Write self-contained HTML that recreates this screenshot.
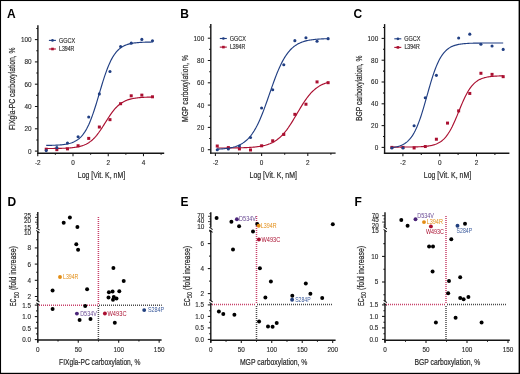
<!DOCTYPE html>
<html><head><meta charset="utf-8"><title>Figure</title>
<style>
html,body{margin:0;padding:0;background:#fff;}
body{width:520px;height:374px;overflow:hidden;}
svg{display:block;will-change:transform;}
text{font-family:"Liberation Sans", sans-serif;}
.t{stroke:#2a2a2a;stroke-width:0.22px;}
.k{stroke:#2a2a2a;stroke-width:0.14px;}
</style></head>
<body>
<svg width="520" height="374" viewBox="0 0 520 374">
<rect x="0" y="0" width="520" height="374" fill="#fff"/>
<g fill="#2a2a2a">
<line x1="37.9" y1="25.3" x2="37.9" y2="153.9" stroke="#151515" stroke-width="1.4"/>
<line x1="37.2" y1="153.2" x2="164.2" y2="153.2" stroke="#151515" stroke-width="1.4"/>
<line x1="34.9" y1="151.1" x2="37.9" y2="151.1" stroke="#151515" stroke-width="1.05"/>
<text class="k" x="31.6" y="153.5" font-size="7.2" textLength="3.55" lengthAdjust="spacingAndGlyphs" text-anchor="end">0</text>
<line x1="36.3" y1="139.95" x2="37.9" y2="139.95" stroke="#151515" stroke-width="1.05"/>
<line x1="34.9" y1="128.8" x2="37.9" y2="128.8" stroke="#151515" stroke-width="1.05"/>
<text class="k" x="31.6" y="131.2" font-size="7.2" textLength="7.1" lengthAdjust="spacingAndGlyphs" text-anchor="end">20</text>
<line x1="36.3" y1="117.65" x2="37.9" y2="117.65" stroke="#151515" stroke-width="1.05"/>
<line x1="34.9" y1="106.5" x2="37.9" y2="106.5" stroke="#151515" stroke-width="1.05"/>
<text class="k" x="31.6" y="108.9" font-size="7.2" textLength="7.1" lengthAdjust="spacingAndGlyphs" text-anchor="end">40</text>
<line x1="36.3" y1="95.35" x2="37.9" y2="95.35" stroke="#151515" stroke-width="1.05"/>
<line x1="34.9" y1="84.2" x2="37.9" y2="84.2" stroke="#151515" stroke-width="1.05"/>
<text class="k" x="31.6" y="86.6" font-size="7.2" textLength="7.1" lengthAdjust="spacingAndGlyphs" text-anchor="end">60</text>
<line x1="36.3" y1="73.05" x2="37.9" y2="73.05" stroke="#151515" stroke-width="1.05"/>
<line x1="34.9" y1="61.9" x2="37.9" y2="61.9" stroke="#151515" stroke-width="1.05"/>
<text class="k" x="31.6" y="64.3" font-size="7.2" textLength="7.1" lengthAdjust="spacingAndGlyphs" text-anchor="end">80</text>
<line x1="36.3" y1="50.75" x2="37.9" y2="50.75" stroke="#151515" stroke-width="1.05"/>
<line x1="34.9" y1="39.6" x2="37.9" y2="39.6" stroke="#151515" stroke-width="1.05"/>
<text class="k" x="31.6" y="42" font-size="7.2" textLength="10.65" lengthAdjust="spacingAndGlyphs" text-anchor="end">100</text>
<line x1="36.3" y1="28.45" x2="37.9" y2="28.45" stroke="#151515" stroke-width="1.05"/>
<line x1="37.76" y1="153.2" x2="37.76" y2="156.2" stroke="#151515" stroke-width="1.05"/>
<text class="k" x="34.98" y="165.3" font-size="7.2" textLength="5.75" lengthAdjust="spacingAndGlyphs">-2</text>
<line x1="55.38" y1="153.2" x2="55.38" y2="154.8" stroke="#151515" stroke-width="1.05"/>
<line x1="73" y1="153.2" x2="73" y2="156.2" stroke="#151515" stroke-width="1.05"/>
<text class="k" x="71.22" y="165.3" font-size="7.2" textLength="3.55" lengthAdjust="spacingAndGlyphs">0</text>
<line x1="90.62" y1="153.2" x2="90.62" y2="154.8" stroke="#151515" stroke-width="1.05"/>
<line x1="108.24" y1="153.2" x2="108.24" y2="156.2" stroke="#151515" stroke-width="1.05"/>
<text class="k" x="106.47" y="165.3" font-size="7.2" textLength="3.55" lengthAdjust="spacingAndGlyphs">2</text>
<line x1="125.86" y1="153.2" x2="125.86" y2="154.8" stroke="#151515" stroke-width="1.05"/>
<line x1="143.48" y1="153.2" x2="143.48" y2="156.2" stroke="#151515" stroke-width="1.05"/>
<text class="k" x="141.71" y="165.3" font-size="7.2" textLength="3.55" lengthAdjust="spacingAndGlyphs">4</text>
<line x1="161.1" y1="153.2" x2="161.1" y2="154.8" stroke="#151515" stroke-width="1.05"/>
<polyline points="46.22,148.5 47.1,148.5 47.99,148.49 48.87,148.49 49.76,148.48 50.64,148.48 51.53,148.47 52.42,148.46 53.3,148.45 54.19,148.44 55.07,148.43 55.96,148.42 56.84,148.41 57.73,148.39 58.61,148.38 59.5,148.36 60.38,148.34 61.27,148.32 62.15,148.29 63.04,148.26 63.93,148.23 64.81,148.2 65.7,148.16 66.58,148.11 67.47,148.07 68.35,148.01 69.24,147.95 70.12,147.88 71.01,147.81 71.89,147.73 72.78,147.63 73.67,147.53 74.55,147.42 75.44,147.29 76.32,147.15 77.21,146.99 78.09,146.82 78.98,146.63 79.86,146.42 80.75,146.18 81.63,145.92 82.52,145.63 83.4,145.32 84.29,144.97 85.18,144.59 86.06,144.17 86.95,143.71 87.83,143.21 88.72,142.66 89.6,142.06 90.49,141.41 91.37,140.71 92.26,139.95 93.14,139.14 94.03,138.26 94.91,137.33 95.8,136.33 96.69,135.28 97.57,134.17 98.46,133 99.34,131.78 100.23,130.51 101.11,129.2 102,127.86 102.88,126.48 103.77,125.08 104.65,123.67 105.54,122.25 106.43,120.84 107.31,119.43 108.2,118.05 109.08,116.69 109.97,115.37 110.85,114.08 111.74,112.85 112.62,111.66 113.51,110.53 114.39,109.46 115.28,108.45 116.16,107.49 117.05,106.6 117.94,105.76 118.82,104.98 119.71,104.26 120.59,103.6 121.48,102.98 122.36,102.42 123.25,101.9 124.13,101.43 125.02,100.99 125.9,100.6 126.79,100.24 127.67,99.91 128.56,99.62 129.45,99.35 130.33,99.11 131.22,98.89 132.1,98.69 132.99,98.51 133.87,98.35 134.76,98.2 135.64,98.07 136.53,97.95 137.41,97.85 138.3,97.75 139.19,97.66 140.07,97.59 140.96,97.52 141.84,97.45 142.73,97.4 143.61,97.35 144.5,97.3 145.38,97.26 146.27,97.23 147.15,97.19 148.04,97.16 148.92,97.14 149.81,97.11 150.7,97.09 151.58,97.07 152.47,97.06" fill="none" stroke="#aa0f30" stroke-width="1.15"/>
<polyline points="46.22,145.42 47.1,145.41 47.99,145.4 48.87,145.38 49.76,145.36 50.64,145.34 51.53,145.32 52.42,145.3 53.3,145.27 54.19,145.24 55.07,145.2 55.96,145.16 56.84,145.12 57.73,145.07 58.61,145.02 59.5,144.95 60.38,144.88 61.27,144.81 62.15,144.72 63.04,144.62 63.93,144.51 64.81,144.39 65.7,144.25 66.58,144.1 67.47,143.92 68.35,143.73 69.24,143.51 70.12,143.27 71.01,143 71.89,142.7 72.78,142.37 73.67,141.99 74.55,141.58 75.44,141.11 76.32,140.6 77.21,140.03 78.09,139.39 78.98,138.69 79.86,137.91 80.75,137.05 81.63,136.11 82.52,135.07 83.4,133.93 84.29,132.68 85.18,131.33 86.06,129.85 86.95,128.25 87.83,126.51 88.72,124.65 89.6,122.66 90.49,120.53 91.37,118.27 92.26,115.88 93.14,113.38 94.03,110.76 94.91,108.04 95.8,105.23 96.69,102.34 97.57,99.4 98.46,96.43 99.34,93.44 100.23,90.44 101.11,87.47 102,84.54 102.88,81.68 103.77,78.88 104.65,76.18 105.54,73.58 106.43,71.1 107.31,68.74 108.2,66.5 109.08,64.4 109.97,62.43 110.85,60.6 111.74,58.89 112.62,57.31 113.51,55.86 114.39,54.52 115.28,53.3 116.16,52.18 117.05,51.16 117.94,50.24 118.82,49.39 119.71,48.63 120.59,47.94 121.48,47.32 122.36,46.76 123.25,46.26 124.13,45.8 125.02,45.4 125.9,45.03 126.79,44.7 127.67,44.41 128.56,44.14 129.45,43.91 130.33,43.7 131.22,43.51 132.1,43.34 132.99,43.19 133.87,43.05 134.76,42.93 135.64,42.83 136.53,42.73 137.41,42.64 138.3,42.57 139.19,42.5 140.07,42.44 140.96,42.38 141.84,42.34 142.73,42.29 143.61,42.26 144.5,42.22 145.38,42.19 146.27,42.16 147.15,42.14 148.04,42.12 148.92,42.1 149.81,42.08 150.7,42.07 151.58,42.05 152.47,42.04" fill="none" stroke="#213f83" stroke-width="1.15"/>
<rect x="44.72" y="147.7" width="3" height="3" fill="#aa0f30"/>
<rect x="55.34" y="148.15" width="3" height="3" fill="#aa0f30"/>
<rect x="65.97" y="147.37" width="3" height="3" fill="#aa0f30"/>
<rect x="76.59" y="144.25" width="3" height="3" fill="#aa0f30"/>
<rect x="87.22" y="136.89" width="3" height="3" fill="#aa0f30"/>
<rect x="97.84" y="125.52" width="3" height="3" fill="#aa0f30"/>
<rect x="108.47" y="118.16" width="3" height="3" fill="#aa0f30"/>
<rect x="119.09" y="102.21" width="3" height="3" fill="#aa0f30"/>
<rect x="129.72" y="94.3" width="3" height="3" fill="#aa0f30"/>
<rect x="140.34" y="93.63" width="3" height="3" fill="#aa0f30"/>
<rect x="150.97" y="95.3" width="3" height="3" fill="#aa0f30"/>
<circle cx="46.22" cy="150.6" r="1.55" fill="#213f83"/>
<circle cx="56.84" cy="147.64" r="1.55" fill="#213f83"/>
<circle cx="67.47" cy="143.07" r="1.55" fill="#213f83"/>
<circle cx="78.09" cy="136.72" r="1.55" fill="#213f83"/>
<circle cx="88.72" cy="116.98" r="1.55" fill="#213f83"/>
<circle cx="99.34" cy="93.9" r="1.55" fill="#213f83"/>
<circle cx="109.97" cy="71.49" r="1.55" fill="#213f83"/>
<circle cx="120.59" cy="46.51" r="1.55" fill="#213f83"/>
<circle cx="131.22" cy="43.17" r="1.55" fill="#213f83"/>
<circle cx="141.84" cy="39.38" r="1.55" fill="#213f83"/>
<circle cx="152.47" cy="40.83" r="1.55" fill="#213f83"/>
<line x1="48.9" y1="40.4" x2="55.9" y2="40.4" stroke="#213f83" stroke-width="1.1"/>
<circle cx="52.5" cy="40.4" r="1.35" fill="#213f83"/>
<line x1="48.9" y1="49" x2="55.9" y2="49" stroke="#aa0f30" stroke-width="1.1"/>
<rect x="51.2" y="47.7" width="2.6" height="2.6" fill="#aa0f30"/>
<text class="k" x="58.9" y="42.6" font-size="6.3" textLength="16.2" lengthAdjust="spacingAndGlyphs">GGCX</text>
<text class="k" x="59" y="50.75" font-size="6.4" textLength="15.4" lengthAdjust="spacingAndGlyphs">L394R</text>
<text class="t" x="77.8" y="177.8" font-size="9.8" textLength="47.3" lengthAdjust="spacingAndGlyphs">Log [Vit. K, nM]</text>
<text class="t" x="15.3" y="130.1" font-size="9.8" textLength="82.7" lengthAdjust="spacingAndGlyphs" transform="rotate(-90 15.3 130.1)">FIXgla-PC carboxylation, %</text>
<text x="7.1" y="17.9" font-size="12" fill="#000" font-weight="bold">A</text>
<line x1="210.8" y1="24.1" x2="210.8" y2="153.8" stroke="#151515" stroke-width="1.4"/>
<line x1="210.1" y1="153.1" x2="335.6" y2="153.1" stroke="#151515" stroke-width="1.4"/>
<line x1="207.8" y1="149.7" x2="210.8" y2="149.7" stroke="#151515" stroke-width="1.05"/>
<text class="k" x="204.2" y="152.1" font-size="7.2" textLength="3.55" lengthAdjust="spacingAndGlyphs" text-anchor="end">0</text>
<line x1="209.2" y1="138.55" x2="210.8" y2="138.55" stroke="#151515" stroke-width="1.05"/>
<line x1="207.8" y1="127.4" x2="210.8" y2="127.4" stroke="#151515" stroke-width="1.05"/>
<text class="k" x="204.2" y="129.8" font-size="7.2" textLength="7.1" lengthAdjust="spacingAndGlyphs" text-anchor="end">20</text>
<line x1="209.2" y1="116.25" x2="210.8" y2="116.25" stroke="#151515" stroke-width="1.05"/>
<line x1="207.8" y1="105.1" x2="210.8" y2="105.1" stroke="#151515" stroke-width="1.05"/>
<text class="k" x="204.2" y="107.5" font-size="7.2" textLength="7.1" lengthAdjust="spacingAndGlyphs" text-anchor="end">40</text>
<line x1="209.2" y1="93.95" x2="210.8" y2="93.95" stroke="#151515" stroke-width="1.05"/>
<line x1="207.8" y1="82.8" x2="210.8" y2="82.8" stroke="#151515" stroke-width="1.05"/>
<text class="k" x="204.2" y="85.2" font-size="7.2" textLength="7.1" lengthAdjust="spacingAndGlyphs" text-anchor="end">60</text>
<line x1="209.2" y1="71.65" x2="210.8" y2="71.65" stroke="#151515" stroke-width="1.05"/>
<line x1="207.8" y1="60.5" x2="210.8" y2="60.5" stroke="#151515" stroke-width="1.05"/>
<text class="k" x="204.2" y="62.9" font-size="7.2" textLength="7.1" lengthAdjust="spacingAndGlyphs" text-anchor="end">80</text>
<line x1="209.2" y1="49.35" x2="210.8" y2="49.35" stroke="#151515" stroke-width="1.05"/>
<line x1="207.8" y1="38.2" x2="210.8" y2="38.2" stroke="#151515" stroke-width="1.05"/>
<text class="k" x="204.2" y="40.6" font-size="7.2" textLength="10.65" lengthAdjust="spacingAndGlyphs" text-anchor="end">100</text>
<line x1="209.2" y1="27.05" x2="210.8" y2="27.05" stroke="#151515" stroke-width="1.05"/>
<line x1="215.4" y1="153.1" x2="215.4" y2="156.1" stroke="#151515" stroke-width="1.05"/>
<text class="k" x="212.63" y="165.2" font-size="7.2" textLength="5.75" lengthAdjust="spacingAndGlyphs">-2</text>
<line x1="238.5" y1="153.1" x2="238.5" y2="154.7" stroke="#151515" stroke-width="1.05"/>
<line x1="261.6" y1="153.1" x2="261.6" y2="156.1" stroke="#151515" stroke-width="1.05"/>
<text class="k" x="259.83" y="165.2" font-size="7.2" textLength="3.55" lengthAdjust="spacingAndGlyphs">0</text>
<line x1="284.7" y1="153.1" x2="284.7" y2="154.7" stroke="#151515" stroke-width="1.05"/>
<line x1="307.8" y1="153.1" x2="307.8" y2="156.1" stroke="#151515" stroke-width="1.05"/>
<text class="k" x="306.03" y="165.2" font-size="7.2" textLength="3.55" lengthAdjust="spacingAndGlyphs">2</text>
<line x1="330.9" y1="153.1" x2="330.9" y2="154.7" stroke="#151515" stroke-width="1.05"/>
<polyline points="217.25,148 218.17,148 219.1,148 220.02,148 220.94,147.99 221.87,147.99 222.79,147.99 223.72,147.98 224.64,147.98 225.56,147.97 226.49,147.97 227.41,147.96 228.34,147.95 229.26,147.95 230.18,147.94 231.11,147.93 232.03,147.92 232.96,147.91 233.88,147.9 234.8,147.89 235.73,147.87 236.65,147.86 237.58,147.84 238.5,147.83 239.42,147.81 240.35,147.79 241.27,147.76 242.2,147.74 243.12,147.71 244.04,147.68 244.97,147.64 245.89,147.61 246.82,147.57 247.74,147.52 248.66,147.47 249.59,147.42 250.51,147.36 251.44,147.3 252.36,147.23 253.28,147.16 254.21,147.07 255.13,146.98 256.06,146.88 256.98,146.77 257.9,146.66 258.83,146.53 259.75,146.38 260.68,146.23 261.6,146.06 262.52,145.88 263.45,145.68 264.37,145.46 265.3,145.22 266.22,144.96 267.14,144.68 268.07,144.38 268.99,144.04 269.92,143.69 270.84,143.29 271.76,142.87 272.69,142.42 273.61,141.92 274.54,141.39 275.46,140.82 276.38,140.2 277.31,139.54 278.23,138.83 279.16,138.07 280.08,137.26 281,136.4 281.93,135.48 282.85,134.51 283.78,133.49 284.7,132.4 285.62,131.26 286.55,130.07 287.47,128.82 288.4,127.52 289.32,126.17 290.24,124.78 291.17,123.35 292.09,121.87 293.02,120.37 293.94,118.83 294.86,117.28 295.79,115.71 296.71,114.14 297.64,112.56 298.56,110.98 299.48,109.42 300.41,107.88 301.33,106.36 302.26,104.87 303.18,103.41 304.1,102 305.03,100.63 305.95,99.3 306.88,98.03 307.8,96.81 308.72,95.64 309.65,94.53 310.57,93.48 311.5,92.48 312.42,91.53 313.34,90.64 314.27,89.81 315.19,89.02 316.12,88.29 317.04,87.61 317.96,86.97 318.89,86.37 319.81,85.82 320.74,85.31 321.66,84.83 322.58,84.39 323.51,83.99 324.43,83.61 325.36,83.27 326.28,82.95 327.2,82.66 328.13,82.39" fill="none" stroke="#aa0f30" stroke-width="1.15"/>
<polyline points="217.25,149.21 218.17,149.16 219.1,149.1 220.02,149.04 220.94,148.98 221.87,148.9 222.79,148.82 223.72,148.74 224.64,148.64 225.56,148.54 226.49,148.42 227.41,148.29 228.34,148.15 229.26,148 230.18,147.83 231.11,147.65 232.03,147.45 232.96,147.23 233.88,146.98 234.8,146.72 235.73,146.43 236.65,146.11 237.58,145.76 238.5,145.38 239.42,144.96 240.35,144.51 241.27,144.01 242.2,143.47 243.12,142.89 244.04,142.25 244.97,141.55 245.89,140.8 246.82,139.98 247.74,139.1 248.66,138.14 249.59,137.11 250.51,136 251.44,134.81 252.36,133.53 253.28,132.16 254.21,130.7 255.13,129.15 256.06,127.49 256.98,125.74 257.9,123.89 258.83,121.94 259.75,119.9 260.68,117.76 261.6,115.54 262.52,113.23 263.45,110.84 264.37,108.39 265.3,105.87 266.22,103.3 267.14,100.69 268.07,98.05 268.99,95.39 269.92,92.73 270.84,90.07 271.76,87.43 272.69,84.82 273.61,82.25 274.54,79.74 275.46,77.28 276.38,74.89 277.31,72.58 278.23,70.36 279.16,68.22 280.08,66.18 281,64.23 281.93,62.38 282.85,60.63 283.78,58.98 284.7,57.42 285.62,55.96 286.55,54.59 287.47,53.31 288.4,52.12 289.32,51.01 290.24,49.98 291.17,49.02 292.09,48.14 293.02,47.32 293.94,46.57 294.86,45.88 295.79,45.24 296.71,44.65 297.64,44.11 298.56,43.61 299.48,43.16 300.41,42.74 301.33,42.36 302.26,42.02 303.18,41.7 304.1,41.41 305.03,41.14 305.95,40.9 306.88,40.68 307.8,40.47 308.72,40.29 309.65,40.12 310.57,39.97 311.5,39.83 312.42,39.7 313.34,39.59 314.27,39.48 315.19,39.39 316.12,39.3 317.04,39.22 317.96,39.15 318.89,39.08 319.81,39.02 320.74,38.97 321.66,38.92 322.58,38.87 323.51,38.83 324.43,38.79 325.36,38.76 326.28,38.73 327.2,38.7 328.13,38.68" fill="none" stroke="#213f83" stroke-width="1.15"/>
<rect x="215.75" y="144.52" width="3" height="3" fill="#aa0f30"/>
<rect x="226.84" y="146.08" width="3" height="3" fill="#aa0f30"/>
<rect x="237.92" y="147.42" width="3" height="3" fill="#aa0f30"/>
<rect x="249.01" y="148.48" width="3" height="3" fill="#aa0f30"/>
<rect x="260.1" y="144.3" width="3" height="3" fill="#aa0f30"/>
<rect x="271.19" y="139.28" width="3" height="3" fill="#aa0f30"/>
<rect x="282.28" y="132.92" width="3" height="3" fill="#aa0f30"/>
<rect x="293.36" y="112.85" width="3" height="3" fill="#aa0f30"/>
<rect x="304.45" y="102.71" width="3" height="3" fill="#aa0f30"/>
<rect x="315.54" y="80.41" width="3" height="3" fill="#aa0f30"/>
<rect x="326.63" y="81.19" width="3" height="3" fill="#aa0f30"/>
<circle cx="217.25" cy="149.81" r="1.55" fill="#213f83"/>
<circle cx="228.34" cy="149.03" r="1.55" fill="#213f83"/>
<circle cx="239.42" cy="146.02" r="1.55" fill="#213f83"/>
<circle cx="250.51" cy="137.55" r="1.55" fill="#213f83"/>
<circle cx="261.6" cy="108" r="1.55" fill="#213f83"/>
<circle cx="272.69" cy="89.71" r="1.55" fill="#213f83"/>
<circle cx="283.78" cy="64.74" r="1.55" fill="#213f83"/>
<circle cx="294.86" cy="40.65" r="1.55" fill="#213f83"/>
<circle cx="305.95" cy="37.75" r="1.55" fill="#213f83"/>
<circle cx="317.04" cy="41.21" r="1.55" fill="#213f83"/>
<circle cx="328.13" cy="38.65" r="1.55" fill="#213f83"/>
<line x1="219.8" y1="38.5" x2="226.8" y2="38.5" stroke="#213f83" stroke-width="1.1"/>
<circle cx="223.4" cy="38.5" r="1.35" fill="#213f83"/>
<line x1="219.8" y1="47.1" x2="226.8" y2="47.1" stroke="#aa0f30" stroke-width="1.1"/>
<rect x="222.1" y="45.8" width="2.6" height="2.6" fill="#aa0f30"/>
<text class="k" x="229.8" y="40.7" font-size="6.3" textLength="16.2" lengthAdjust="spacingAndGlyphs">GGCX</text>
<text class="k" x="229.9" y="48.85" font-size="6.4" textLength="15.4" lengthAdjust="spacingAndGlyphs">L394R</text>
<text class="t" x="249.6" y="177.6" font-size="9.8" textLength="47.3" lengthAdjust="spacingAndGlyphs">Log [Vit. K, nM]</text>
<text class="t" x="187.8" y="121.9" font-size="9.8" textLength="66.9" lengthAdjust="spacingAndGlyphs" transform="rotate(-90 187.8 121.9)">MGP carboxylation, %</text>
<text x="180.2" y="17.9" font-size="12" fill="#000" font-weight="bold">B</text>
<line x1="384.6" y1="24.1" x2="384.6" y2="154" stroke="#151515" stroke-width="1.4"/>
<line x1="383.9" y1="153.3" x2="509.4" y2="153.3" stroke="#151515" stroke-width="1.4"/>
<line x1="381.6" y1="147.4" x2="384.6" y2="147.4" stroke="#151515" stroke-width="1.05"/>
<text class="k" x="378.2" y="149.8" font-size="7.2" textLength="3.55" lengthAdjust="spacingAndGlyphs" text-anchor="end">0</text>
<line x1="383" y1="136.5" x2="384.6" y2="136.5" stroke="#151515" stroke-width="1.05"/>
<line x1="381.6" y1="125.6" x2="384.6" y2="125.6" stroke="#151515" stroke-width="1.05"/>
<text class="k" x="378.2" y="128" font-size="7.2" textLength="7.1" lengthAdjust="spacingAndGlyphs" text-anchor="end">20</text>
<line x1="383" y1="114.7" x2="384.6" y2="114.7" stroke="#151515" stroke-width="1.05"/>
<line x1="381.6" y1="103.8" x2="384.6" y2="103.8" stroke="#151515" stroke-width="1.05"/>
<text class="k" x="378.2" y="106.2" font-size="7.2" textLength="7.1" lengthAdjust="spacingAndGlyphs" text-anchor="end">40</text>
<line x1="383" y1="92.9" x2="384.6" y2="92.9" stroke="#151515" stroke-width="1.05"/>
<line x1="381.6" y1="82" x2="384.6" y2="82" stroke="#151515" stroke-width="1.05"/>
<text class="k" x="378.2" y="84.4" font-size="7.2" textLength="7.1" lengthAdjust="spacingAndGlyphs" text-anchor="end">60</text>
<line x1="383" y1="71.1" x2="384.6" y2="71.1" stroke="#151515" stroke-width="1.05"/>
<line x1="381.6" y1="60.2" x2="384.6" y2="60.2" stroke="#151515" stroke-width="1.05"/>
<text class="k" x="378.2" y="62.6" font-size="7.2" textLength="7.1" lengthAdjust="spacingAndGlyphs" text-anchor="end">80</text>
<line x1="383" y1="49.3" x2="384.6" y2="49.3" stroke="#151515" stroke-width="1.05"/>
<line x1="381.6" y1="38.4" x2="384.6" y2="38.4" stroke="#151515" stroke-width="1.05"/>
<text class="k" x="378.2" y="40.8" font-size="7.2" textLength="10.65" lengthAdjust="spacingAndGlyphs" text-anchor="end">100</text>
<line x1="383" y1="27.5" x2="384.6" y2="27.5" stroke="#151515" stroke-width="1.05"/>
<line x1="402.9" y1="153.3" x2="402.9" y2="156.3" stroke="#151515" stroke-width="1.05"/>
<text class="k" x="400.12" y="165.2" font-size="7.2" textLength="5.75" lengthAdjust="spacingAndGlyphs">-2</text>
<line x1="421.3" y1="153.3" x2="421.3" y2="154.9" stroke="#151515" stroke-width="1.05"/>
<line x1="439.7" y1="153.3" x2="439.7" y2="156.3" stroke="#151515" stroke-width="1.05"/>
<text class="k" x="437.93" y="165.2" font-size="7.2" textLength="3.55" lengthAdjust="spacingAndGlyphs">0</text>
<line x1="458.1" y1="153.3" x2="458.1" y2="154.9" stroke="#151515" stroke-width="1.05"/>
<line x1="476.5" y1="153.3" x2="476.5" y2="156.3" stroke="#151515" stroke-width="1.05"/>
<text class="k" x="474.73" y="165.2" font-size="7.2" textLength="3.55" lengthAdjust="spacingAndGlyphs">2</text>
<line x1="494.9" y1="153.3" x2="494.9" y2="154.9" stroke="#151515" stroke-width="1.05"/>
<polyline points="391.86,147.07 392.79,147.06 393.72,147.06 394.64,147.06 395.57,147.06 396.5,147.06 397.43,147.06 398.35,147.06 399.28,147.05 400.21,147.05 401.14,147.05 402.06,147.04 402.99,147.04 403.92,147.04 404.85,147.03 405.77,147.02 406.7,147.02 407.63,147.01 408.56,147 409.49,146.99 410.41,146.98 411.34,146.97 412.27,146.96 413.2,146.94 414.12,146.92 415.05,146.9 415.98,146.88 416.91,146.85 417.83,146.82 418.76,146.79 419.69,146.75 420.62,146.7 421.55,146.65 422.47,146.6 423.4,146.53 424.33,146.46 425.26,146.38 426.18,146.28 427.11,146.18 428.04,146.06 428.97,145.92 429.89,145.77 430.82,145.59 431.75,145.4 432.68,145.18 433.61,144.93 434.53,144.64 435.46,144.32 436.39,143.97 437.32,143.56 438.24,143.11 439.17,142.61 440.1,142.04 441.03,141.41 441.95,140.71 442.88,139.93 443.81,139.06 444.74,138.11 445.66,137.06 446.59,135.91 447.52,134.65 448.45,133.29 449.38,131.81 450.3,130.22 451.23,128.52 452.16,126.72 453.09,124.81 454.01,122.81 454.94,120.72 455.87,118.57 456.8,116.35 457.72,114.1 458.65,111.83 459.58,109.55 460.51,107.29 461.44,105.06 462.36,102.88 463.29,100.76 464.22,98.73 465.15,96.78 466.07,94.93 467,93.19 467.93,91.56 468.86,90.04 469.78,88.63 470.71,87.33 471.64,86.14 472.57,85.05 473.49,84.06 474.42,83.16 475.35,82.34 476.28,81.61 477.21,80.95 478.13,80.36 479.06,79.83 479.99,79.36 480.92,78.94 481.84,78.56 482.77,78.23 483.7,77.93 484.63,77.67 485.55,77.44 486.48,77.23 487.41,77.05 488.34,76.89 489.26,76.74 490.19,76.62 491.12,76.51 492.05,76.41 492.98,76.32 493.9,76.25 494.83,76.18 495.76,76.12 496.69,76.07 497.61,76.02 498.54,75.98 499.47,75.94 500.4,75.91 501.32,75.88 502.25,75.86 503.18,75.84" fill="none" stroke="#aa0f30" stroke-width="1.15"/>
<polyline points="391.86,147.58 392.79,147.47 393.72,147.33 394.64,147.18 395.57,147 396.5,146.81 397.43,146.59 398.35,146.34 399.28,146.06 400.21,145.74 401.14,145.39 402.06,144.98 402.99,144.53 403.92,144.03 404.85,143.46 405.77,142.82 406.7,142.11 407.63,141.32 408.56,140.43 409.49,139.45 410.41,138.36 411.34,137.15 412.27,135.82 413.2,134.35 414.12,132.75 415.05,130.99 415.98,129.08 416.91,127.02 417.83,124.8 418.76,122.41 419.69,119.87 420.62,117.19 421.55,114.36 422.47,111.4 423.4,108.33 424.33,105.17 425.26,101.94 426.18,98.66 427.11,95.35 428.04,92.05 428.97,88.78 429.89,85.56 430.82,82.42 431.75,79.37 432.68,76.44 433.61,73.65 434.53,70.99 435.46,68.49 436.39,66.14 437.32,63.96 438.24,61.93 439.17,60.06 440.1,58.34 441.03,56.76 441.95,55.33 442.88,54.03 443.81,52.85 444.74,51.78 445.66,50.82 446.59,49.96 447.52,49.18 448.45,48.49 449.38,47.87 450.3,47.32 451.23,46.83 452.16,46.39 453.09,46 454.01,45.65 454.94,45.34 455.87,45.07 456.8,44.83 457.72,44.61 458.65,44.42 459.58,44.25 460.51,44.11 461.44,43.97 462.36,43.86 463.29,43.75 464.22,43.66 465.15,43.58 466.07,43.51 467,43.45 467.93,43.39 468.86,43.35 469.78,43.3 470.71,43.26 471.64,43.23 472.57,43.2 473.49,43.17 474.42,43.15 475.35,43.13 476.28,43.11 477.21,43.1 478.13,43.08 479.06,43.07 479.99,43.06 480.92,43.05 481.84,43.04 482.77,43.03 483.7,43.03 484.63,43.02 485.55,43.02 486.48,43.01 487.41,43.01 488.34,43 489.26,43 490.19,43 491.12,43 492.05,42.99 492.98,42.99 493.9,42.99 494.83,42.99 495.76,42.99 496.69,42.99 497.61,42.99 498.54,42.98 499.47,42.98 500.4,42.98 501.32,42.98 502.25,42.98 503.18,42.98" fill="none" stroke="#213f83" stroke-width="1.15"/>
<rect x="390.36" y="145.9" width="3" height="3" fill="#aa0f30"/>
<rect x="401.49" y="145.9" width="3" height="3" fill="#aa0f30"/>
<rect x="412.62" y="146.44" width="3" height="3" fill="#aa0f30"/>
<rect x="423.76" y="145.03" width="3" height="3" fill="#aa0f30"/>
<rect x="434.89" y="137.72" width="3" height="3" fill="#aa0f30"/>
<rect x="446.02" y="121.59" width="3" height="3" fill="#aa0f30"/>
<rect x="457.15" y="109.39" width="3" height="3" fill="#aa0f30"/>
<rect x="468.28" y="91.94" width="3" height="3" fill="#aa0f30"/>
<rect x="479.42" y="71.78" width="3" height="3" fill="#aa0f30"/>
<rect x="490.55" y="72.87" width="3" height="3" fill="#aa0f30"/>
<rect x="501.68" y="75.16" width="3" height="3" fill="#aa0f30"/>
<circle cx="391.86" cy="147.94" r="1.55" fill="#213f83"/>
<circle cx="402.99" cy="147.94" r="1.55" fill="#213f83"/>
<circle cx="414.12" cy="125.71" r="1.55" fill="#213f83"/>
<circle cx="425.26" cy="97.81" r="1.55" fill="#213f83"/>
<circle cx="436.39" cy="75.35" r="1.55" fill="#213f83"/>
<circle cx="458.65" cy="37.96" r="1.55" fill="#213f83"/>
<circle cx="469.78" cy="34.15" r="1.55" fill="#213f83"/>
<circle cx="480.92" cy="44.18" r="1.55" fill="#213f83"/>
<circle cx="492.05" cy="46.03" r="1.55" fill="#213f83"/>
<circle cx="503.18" cy="49.41" r="1.55" fill="#213f83"/>
<line x1="394.3" y1="38.8" x2="401.3" y2="38.8" stroke="#213f83" stroke-width="1.1"/>
<circle cx="397.9" cy="38.8" r="1.35" fill="#213f83"/>
<line x1="394.3" y1="47.4" x2="401.3" y2="47.4" stroke="#aa0f30" stroke-width="1.1"/>
<rect x="396.6" y="46.1" width="2.6" height="2.6" fill="#aa0f30"/>
<text class="k" x="404.3" y="41" font-size="6.3" textLength="16.2" lengthAdjust="spacingAndGlyphs">GGCX</text>
<text class="k" x="404.4" y="49.15" font-size="6.4" textLength="15.4" lengthAdjust="spacingAndGlyphs">L394R</text>
<text class="t" x="423.8" y="177.6" font-size="9.8" textLength="47.3" lengthAdjust="spacingAndGlyphs">Log [Vit. K, nM]</text>
<text class="t" x="361.8" y="121" font-size="9.8" textLength="65.5" lengthAdjust="spacingAndGlyphs" transform="rotate(-90 361.8 121)">BGP carboxylation, %</text>
<text x="353.6" y="17.9" font-size="12" fill="#000" font-weight="bold">C</text>
<line x1="37.8" y1="212.1" x2="37.8" y2="228.2" stroke="#151515" stroke-width="1.4"/>
<line x1="37.8" y1="231" x2="37.8" y2="301.2" stroke="#151515" stroke-width="1.4"/>
<line x1="37.8" y1="303.6" x2="37.8" y2="342.4" stroke="#151515" stroke-width="1.4"/>
<line x1="36.3" y1="227.8" x2="39.5" y2="230.2" stroke="#151515" stroke-width="1.05"/>
<line x1="36.3" y1="230.4" x2="39.5" y2="232.8" stroke="#151515" stroke-width="1.05"/>
<line x1="36.3" y1="299.8" x2="39.5" y2="302.2" stroke="#151515" stroke-width="1.05"/>
<line x1="36.3" y1="302.8" x2="39.5" y2="305.2" stroke="#151515" stroke-width="1.05"/>
<line x1="37.1" y1="340" x2="161.6" y2="340" stroke="#151515" stroke-width="1.4"/>
<line x1="37.8" y1="340" x2="37.8" y2="342.8" stroke="#151515" stroke-width="1.05"/>
<text class="k" x="36.02" y="352" font-size="7.2" textLength="3.55" lengthAdjust="spacingAndGlyphs">0</text>
<line x1="58.02" y1="340" x2="58.02" y2="341.6" stroke="#151515" stroke-width="1.05"/>
<line x1="78.25" y1="340" x2="78.25" y2="342.8" stroke="#151515" stroke-width="1.05"/>
<text class="k" x="74.7" y="352" font-size="7.2" textLength="7.1" lengthAdjust="spacingAndGlyphs">50</text>
<line x1="98.47" y1="340" x2="98.47" y2="341.6" stroke="#151515" stroke-width="1.05"/>
<line x1="118.7" y1="340" x2="118.7" y2="342.8" stroke="#151515" stroke-width="1.05"/>
<text class="k" x="113.38" y="352" font-size="7.2" textLength="10.65" lengthAdjust="spacingAndGlyphs">100</text>
<line x1="138.93" y1="340" x2="138.93" y2="341.6" stroke="#151515" stroke-width="1.05"/>
<line x1="159.15" y1="340" x2="159.15" y2="342.8" stroke="#151515" stroke-width="1.05"/>
<text class="k" x="153.83" y="352" font-size="7.2" textLength="10.65" lengthAdjust="spacingAndGlyphs">150</text>
<line x1="34.8" y1="339.6" x2="37.8" y2="339.6" stroke="#151515" stroke-width="1.05"/>
<text class="k" x="31.05" y="342" font-size="7.2" textLength="8.7" lengthAdjust="spacingAndGlyphs" text-anchor="end">0.0</text>
<line x1="36.2" y1="333.85" x2="37.8" y2="333.85" stroke="#151515" stroke-width="1.05"/>
<line x1="34.8" y1="328.1" x2="37.8" y2="328.1" stroke="#151515" stroke-width="1.05"/>
<text class="k" x="31.05" y="330.5" font-size="7.2" textLength="8.7" lengthAdjust="spacingAndGlyphs" text-anchor="end">0.5</text>
<line x1="36.2" y1="322.35" x2="37.8" y2="322.35" stroke="#151515" stroke-width="1.05"/>
<line x1="34.8" y1="316.6" x2="37.8" y2="316.6" stroke="#151515" stroke-width="1.05"/>
<text class="k" x="31.05" y="319" font-size="7.2" textLength="8.7" lengthAdjust="spacingAndGlyphs" text-anchor="end">1.0</text>
<line x1="36.2" y1="310.85" x2="37.8" y2="310.85" stroke="#151515" stroke-width="1.05"/>
<line x1="34.8" y1="305.1" x2="37.8" y2="305.1" stroke="#151515" stroke-width="1.05"/>
<text class="k" x="31.05" y="307.5" font-size="7.2" textLength="8.7" lengthAdjust="spacingAndGlyphs" text-anchor="end">1.5</text>
<line x1="34.8" y1="296.5" x2="37.8" y2="296.5" stroke="#151515" stroke-width="1.05"/>
<text class="k" x="31.05" y="298.9" font-size="7.2" textLength="3.55" lengthAdjust="spacingAndGlyphs" text-anchor="end">2</text>
<line x1="36.2" y1="288.4" x2="37.8" y2="288.4" stroke="#151515" stroke-width="1.05"/>
<line x1="34.8" y1="280.3" x2="37.8" y2="280.3" stroke="#151515" stroke-width="1.05"/>
<text class="k" x="31.05" y="282.7" font-size="7.2" textLength="3.55" lengthAdjust="spacingAndGlyphs" text-anchor="end">4</text>
<line x1="36.2" y1="272.2" x2="37.8" y2="272.2" stroke="#151515" stroke-width="1.05"/>
<line x1="34.8" y1="264.1" x2="37.8" y2="264.1" stroke="#151515" stroke-width="1.05"/>
<text class="k" x="31.05" y="266.5" font-size="7.2" textLength="3.55" lengthAdjust="spacingAndGlyphs" text-anchor="end">6</text>
<line x1="36.2" y1="256" x2="37.8" y2="256" stroke="#151515" stroke-width="1.05"/>
<line x1="34.8" y1="247.9" x2="37.8" y2="247.9" stroke="#151515" stroke-width="1.05"/>
<text class="k" x="31.05" y="250.3" font-size="7.2" textLength="3.55" lengthAdjust="spacingAndGlyphs" text-anchor="end">8</text>
<line x1="36.2" y1="239.8" x2="37.8" y2="239.8" stroke="#151515" stroke-width="1.05"/>
<line x1="35" y1="217.4" x2="37.8" y2="217.4" stroke="#151515" stroke-width="0.8"/>
<line x1="36.3" y1="219.9" x2="37.8" y2="219.9" stroke="#151515" stroke-width="0.8"/>
<line x1="35" y1="222.2" x2="37.8" y2="222.2" stroke="#151515" stroke-width="0.8"/>
<line x1="36.3" y1="224.2" x2="37.8" y2="224.2" stroke="#151515" stroke-width="0.8"/>
<line x1="36.3" y1="214.8" x2="37.8" y2="214.8" stroke="#151515" stroke-width="0.8"/>
<text class="k" x="0" y="0" font-size="7.2" textLength="7.1" lengthAdjust="spacingAndGlyphs" transform="translate(23.9 218.35) scale(1 0.9)">25</text>
<text class="k" x="0" y="0" font-size="7.2" textLength="7.1" lengthAdjust="spacingAndGlyphs" transform="translate(23.9 223.15) scale(1 0.9)">20</text>
<text class="k" x="0" y="0" font-size="7.2" textLength="7.1" lengthAdjust="spacingAndGlyphs" transform="translate(23.9 229.65) scale(1 0.9)">15</text>
<text class="k" x="0" y="0" font-size="7.2" textLength="7.1" lengthAdjust="spacingAndGlyphs" transform="translate(23.9 234.75) scale(1 0.9)">10</text>
<line x1="98.4" y1="217" x2="98.4" y2="304.7" stroke="#c8406a" stroke-width="1.5" stroke-dasharray="1 1"/>
<line x1="98.4" y1="306" x2="98.4" y2="339.5" stroke="#4a4a4a" stroke-width="1.5" stroke-dasharray="1 1"/>
<line x1="39" y1="305.2" x2="97.9" y2="305.2" stroke="#c8406a" stroke-width="1.5" stroke-dasharray="1 1"/>
<line x1="99" y1="305.2" x2="161.8" y2="305.2" stroke="#4a4a4a" stroke-width="1.5" stroke-dasharray="1 1"/>
<circle cx="52.6" cy="290.4" r="1.98" fill="#000"/>
<circle cx="52.6" cy="309.1" r="1.98" fill="#000"/>
<circle cx="63.7" cy="222.7" r="1.98" fill="#000"/>
<circle cx="69.9" cy="217.6" r="1.98" fill="#000"/>
<circle cx="77.4" cy="227" r="1.98" fill="#000"/>
<circle cx="76.3" cy="244.3" r="1.98" fill="#000"/>
<circle cx="78.1" cy="249.7" r="1.98" fill="#000"/>
<circle cx="85.2" cy="306" r="1.98" fill="#000"/>
<circle cx="87.1" cy="289.2" r="1.98" fill="#000"/>
<circle cx="79.6" cy="320" r="1.98" fill="#000"/>
<circle cx="90.5" cy="319.1" r="1.98" fill="#000"/>
<circle cx="108.9" cy="292.3" r="1.98" fill="#000"/>
<circle cx="112.6" cy="291.6" r="1.98" fill="#000"/>
<circle cx="119.3" cy="291.2" r="1.98" fill="#000"/>
<circle cx="108.5" cy="297.5" r="1.98" fill="#000"/>
<circle cx="113.8" cy="297" r="1.98" fill="#000"/>
<circle cx="116.5" cy="298.4" r="1.98" fill="#000"/>
<circle cx="113" cy="299.8" r="1.98" fill="#000"/>
<circle cx="114.8" cy="322.7" r="1.98" fill="#000"/>
<circle cx="113.4" cy="268.1" r="1.98" fill="#000"/>
<circle cx="123.7" cy="281" r="1.98" fill="#000"/>
<circle cx="60" cy="277" r="1.95" fill="#e38d14"/>
<text x="63" y="278.7" font-size="6.5" textLength="15.4" lengthAdjust="spacingAndGlyphs" fill="#e38d14">L394R</text>
<circle cx="76.9" cy="313.6" r="1.95" fill="#4a2478"/>
<text x="80.2" y="315.6" font-size="6.5" textLength="16.6" lengthAdjust="spacingAndGlyphs" fill="#6a4a94">D534V</text>
<circle cx="104.9" cy="313.5" r="1.95" fill="#aa0f30"/>
<text x="107.5" y="315.6" font-size="6.5" textLength="19" lengthAdjust="spacingAndGlyphs" fill="#aa0f30">W493C</text>
<circle cx="144.2" cy="310.1" r="1.95" fill="#22407f"/>
<text x="147.9" y="312.1" font-size="6.5" textLength="16.3" lengthAdjust="spacingAndGlyphs" fill="#3a5a9c">S284P</text>
<text class="t" x="59.1" y="364.5" font-size="9.8" textLength="81.3" lengthAdjust="spacingAndGlyphs">FIXgla-PC carboxylation, %</text>
<g transform="rotate(-90 16.1 306.2)">
<text class="t" x="16.1" y="306.2" font-size="9.4" textLength="7.6" lengthAdjust="spacingAndGlyphs">EC</text>
<text class="k" x="24.2" y="308.8" font-size="6.6" textLength="6" lengthAdjust="spacingAndGlyphs">50</text>
<text class="t" x="32.2" y="306.2" font-size="9.4" textLength="44" lengthAdjust="spacingAndGlyphs">(fold increase)</text>
</g>
<text x="7.6" y="206.4" font-size="12" fill="#000" font-weight="bold">D</text>
<line x1="210.8" y1="212.3" x2="210.8" y2="227.6" stroke="#151515" stroke-width="1.4"/>
<line x1="210.8" y1="230.6" x2="210.8" y2="301" stroke="#151515" stroke-width="1.4"/>
<line x1="210.8" y1="303.4" x2="210.8" y2="342.6" stroke="#151515" stroke-width="1.4"/>
<line x1="209.4" y1="227.2" x2="212.6" y2="229.6" stroke="#151515" stroke-width="1.05"/>
<line x1="209.4" y1="230" x2="212.6" y2="232.4" stroke="#151515" stroke-width="1.05"/>
<line x1="209.4" y1="299.6" x2="212.6" y2="302" stroke="#151515" stroke-width="1.05"/>
<line x1="209.4" y1="302.4" x2="212.6" y2="304.8" stroke="#151515" stroke-width="1.05"/>
<line x1="210.1" y1="340.2" x2="335.6" y2="340.2" stroke="#151515" stroke-width="1.4"/>
<line x1="210.8" y1="340.2" x2="210.8" y2="343" stroke="#151515" stroke-width="1.05"/>
<text class="k" x="209.03" y="352" font-size="7.2" textLength="3.55" lengthAdjust="spacingAndGlyphs">0</text>
<line x1="226.04" y1="340.2" x2="226.04" y2="341.8" stroke="#151515" stroke-width="1.05"/>
<line x1="241.28" y1="340.2" x2="241.28" y2="343" stroke="#151515" stroke-width="1.05"/>
<text class="k" x="237.72" y="352" font-size="7.2" textLength="7.1" lengthAdjust="spacingAndGlyphs">50</text>
<line x1="256.51" y1="340.2" x2="256.51" y2="341.8" stroke="#151515" stroke-width="1.05"/>
<line x1="271.75" y1="340.2" x2="271.75" y2="343" stroke="#151515" stroke-width="1.05"/>
<text class="k" x="266.43" y="352" font-size="7.2" textLength="10.65" lengthAdjust="spacingAndGlyphs">100</text>
<line x1="286.99" y1="340.2" x2="286.99" y2="341.8" stroke="#151515" stroke-width="1.05"/>
<line x1="302.23" y1="340.2" x2="302.23" y2="343" stroke="#151515" stroke-width="1.05"/>
<text class="k" x="296.9" y="352" font-size="7.2" textLength="10.65" lengthAdjust="spacingAndGlyphs">150</text>
<line x1="317.46" y1="340.2" x2="317.46" y2="341.8" stroke="#151515" stroke-width="1.05"/>
<line x1="332.7" y1="340.2" x2="332.7" y2="343" stroke="#151515" stroke-width="1.05"/>
<text class="k" x="327.38" y="352" font-size="7.2" textLength="10.65" lengthAdjust="spacingAndGlyphs">200</text>
<line x1="207.8" y1="339.4" x2="210.8" y2="339.4" stroke="#151515" stroke-width="1.05"/>
<text class="k" x="204.05" y="341.8" font-size="7.2" textLength="8.7" lengthAdjust="spacingAndGlyphs" text-anchor="end">0.0</text>
<line x1="209.2" y1="333.65" x2="210.8" y2="333.65" stroke="#151515" stroke-width="1.05"/>
<line x1="207.8" y1="327.9" x2="210.8" y2="327.9" stroke="#151515" stroke-width="1.05"/>
<text class="k" x="204.05" y="330.3" font-size="7.2" textLength="8.7" lengthAdjust="spacingAndGlyphs" text-anchor="end">0.5</text>
<line x1="209.2" y1="322.15" x2="210.8" y2="322.15" stroke="#151515" stroke-width="1.05"/>
<line x1="207.8" y1="316.4" x2="210.8" y2="316.4" stroke="#151515" stroke-width="1.05"/>
<text class="k" x="204.05" y="318.8" font-size="7.2" textLength="8.7" lengthAdjust="spacingAndGlyphs" text-anchor="end">1.0</text>
<line x1="209.2" y1="310.65" x2="210.8" y2="310.65" stroke="#151515" stroke-width="1.05"/>
<line x1="207.8" y1="304.9" x2="210.8" y2="304.9" stroke="#151515" stroke-width="1.05"/>
<text class="k" x="204.05" y="307.3" font-size="7.2" textLength="8.7" lengthAdjust="spacingAndGlyphs" text-anchor="end">1.5</text>
<line x1="207.8" y1="293.6" x2="210.8" y2="293.6" stroke="#151515" stroke-width="1.05"/>
<text class="k" x="204.05" y="296" font-size="7.2" textLength="3.55" lengthAdjust="spacingAndGlyphs" text-anchor="end">2</text>
<line x1="209.2" y1="281.1" x2="210.8" y2="281.1" stroke="#151515" stroke-width="1.05"/>
<line x1="207.8" y1="268.6" x2="210.8" y2="268.6" stroke="#151515" stroke-width="1.05"/>
<text class="k" x="204.05" y="271" font-size="7.2" textLength="3.55" lengthAdjust="spacingAndGlyphs" text-anchor="end">4</text>
<line x1="209.2" y1="256.1" x2="210.8" y2="256.1" stroke="#151515" stroke-width="1.05"/>
<line x1="207.8" y1="243.6" x2="210.8" y2="243.6" stroke="#151515" stroke-width="1.05"/>
<text class="k" x="204.05" y="246" font-size="7.2" textLength="3.55" lengthAdjust="spacingAndGlyphs" text-anchor="end">6</text>
<line x1="209.2" y1="231.1" x2="210.8" y2="231.1" stroke="#151515" stroke-width="1.05"/>
<line x1="208" y1="216.3" x2="210.8" y2="216.3" stroke="#151515" stroke-width="0.8"/>
<line x1="209.3" y1="218.9" x2="210.8" y2="218.9" stroke="#151515" stroke-width="0.8"/>
<line x1="208" y1="221.6" x2="210.8" y2="221.6" stroke="#151515" stroke-width="0.8"/>
<line x1="209.3" y1="224.2" x2="210.8" y2="224.2" stroke="#151515" stroke-width="0.8"/>
<line x1="209.3" y1="213.6" x2="210.8" y2="213.6" stroke="#151515" stroke-width="0.8"/>
<text class="k" x="0" y="0" font-size="7.2" textLength="7.1" lengthAdjust="spacingAndGlyphs" transform="translate(197.3 218.05) scale(1 0.9)">70</text>
<text class="k" x="0" y="0" font-size="7.2" textLength="7.1" lengthAdjust="spacingAndGlyphs" transform="translate(197.3 222.85) scale(1 0.9)">40</text>
<text class="k" x="0" y="0" font-size="7.2" textLength="7.1" lengthAdjust="spacingAndGlyphs" transform="translate(197.3 229.15) scale(1 0.9)">10</text>
<line x1="256.5" y1="216" x2="256.5" y2="304.1" stroke="#c8406a" stroke-width="1.5" stroke-dasharray="1 1"/>
<line x1="256.5" y1="306" x2="256.5" y2="339.7" stroke="#4a4a4a" stroke-width="1.5" stroke-dasharray="1 1"/>
<line x1="212" y1="304.6" x2="256" y2="304.6" stroke="#c8406a" stroke-width="1.5" stroke-dasharray="1 1"/>
<line x1="257" y1="304.6" x2="332.5" y2="304.6" stroke="#4a4a4a" stroke-width="1.5" stroke-dasharray="1 1"/>
<circle cx="216.6" cy="218" r="1.98" fill="#000"/>
<circle cx="231.4" cy="221.7" r="1.98" fill="#000"/>
<circle cx="239.1" cy="226.3" r="1.98" fill="#000"/>
<circle cx="253" cy="231.6" r="1.98" fill="#000"/>
<circle cx="233" cy="249.6" r="1.98" fill="#000"/>
<circle cx="257.2" cy="224.1" r="1.98" fill="#000"/>
<circle cx="259.9" cy="268.3" r="1.98" fill="#000"/>
<circle cx="270.9" cy="281.4" r="1.98" fill="#000"/>
<circle cx="305.8" cy="283.6" r="1.98" fill="#000"/>
<circle cx="332.8" cy="224.3" r="1.98" fill="#000"/>
<circle cx="265.4" cy="297.6" r="1.98" fill="#000"/>
<circle cx="292.3" cy="295.7" r="1.98" fill="#000"/>
<circle cx="310.4" cy="293.8" r="1.98" fill="#000"/>
<circle cx="322.2" cy="297.9" r="1.98" fill="#000"/>
<circle cx="218.9" cy="311.4" r="1.98" fill="#000"/>
<circle cx="223.3" cy="313.9" r="1.98" fill="#000"/>
<circle cx="234.4" cy="314.7" r="1.98" fill="#000"/>
<circle cx="259.1" cy="321.5" r="1.98" fill="#000"/>
<circle cx="268" cy="326.5" r="1.98" fill="#000"/>
<circle cx="272.6" cy="326.7" r="1.98" fill="#000"/>
<circle cx="276.7" cy="323.1" r="1.98" fill="#000"/>
<circle cx="236.9" cy="219.3" r="1.95" fill="#4a2478"/>
<text x="239" y="221.3" font-size="6.5" textLength="17.1" lengthAdjust="spacingAndGlyphs" fill="#6a4a94">D534V</text>
<circle cx="258.7" cy="225.7" r="1.95" fill="#e38d14"/>
<text x="260.8" y="227.7" font-size="6.5" textLength="15.7" lengthAdjust="spacingAndGlyphs" fill="#e38d14">L394R</text>
<circle cx="258.9" cy="239.5" r="1.95" fill="#aa0f30"/>
<text x="261.5" y="241.5" font-size="6.5" textLength="18.8" lengthAdjust="spacingAndGlyphs" fill="#aa0f30">W493C</text>
<circle cx="292.1" cy="299.8" r="1.95" fill="#22407f"/>
<text x="295.2" y="301.8" font-size="6.5" textLength="15.4" lengthAdjust="spacingAndGlyphs" fill="#3a5a9c">S284P</text>
<text class="t" x="239.9" y="364.5" font-size="9.8" textLength="67.5" lengthAdjust="spacingAndGlyphs">MGP carboxylation, %</text>
<g transform="rotate(-90 189.5 306)">
<text class="t" x="189.5" y="306" font-size="9.4" textLength="7.6" lengthAdjust="spacingAndGlyphs">EC</text>
<text class="k" x="197.6" y="308.6" font-size="6.6" textLength="6" lengthAdjust="spacingAndGlyphs">50</text>
<text class="t" x="205.6" y="306" font-size="9.4" textLength="44" lengthAdjust="spacingAndGlyphs">(fold increase)</text>
</g>
<text x="180.6" y="206.4" font-size="12" fill="#000" font-weight="bold">E</text>
<line x1="385" y1="212.3" x2="385" y2="227" stroke="#151515" stroke-width="1.4"/>
<line x1="385" y1="230.2" x2="385" y2="301.6" stroke="#151515" stroke-width="1.4"/>
<line x1="385" y1="303.8" x2="385" y2="342.6" stroke="#151515" stroke-width="1.4"/>
<line x1="383.6" y1="226.6" x2="386.8" y2="229" stroke="#151515" stroke-width="1.05"/>
<line x1="383.6" y1="229.4" x2="386.8" y2="231.8" stroke="#151515" stroke-width="1.05"/>
<line x1="383.6" y1="300.2" x2="386.8" y2="302.6" stroke="#151515" stroke-width="1.05"/>
<line x1="383.6" y1="303" x2="386.8" y2="305.4" stroke="#151515" stroke-width="1.05"/>
<line x1="384.3" y1="340.2" x2="509.8" y2="340.2" stroke="#151515" stroke-width="1.4"/>
<line x1="385" y1="340.2" x2="385" y2="343" stroke="#151515" stroke-width="1.05"/>
<text class="k" x="383.23" y="352" font-size="7.2" textLength="3.55" lengthAdjust="spacingAndGlyphs">0</text>
<line x1="405.5" y1="340.2" x2="405.5" y2="341.8" stroke="#151515" stroke-width="1.05"/>
<line x1="426" y1="340.2" x2="426" y2="343" stroke="#151515" stroke-width="1.05"/>
<text class="k" x="422.45" y="352" font-size="7.2" textLength="7.1" lengthAdjust="spacingAndGlyphs">50</text>
<line x1="446.5" y1="340.2" x2="446.5" y2="341.8" stroke="#151515" stroke-width="1.05"/>
<line x1="467" y1="340.2" x2="467" y2="343" stroke="#151515" stroke-width="1.05"/>
<text class="k" x="461.68" y="352" font-size="7.2" textLength="10.65" lengthAdjust="spacingAndGlyphs">100</text>
<line x1="487.5" y1="340.2" x2="487.5" y2="341.8" stroke="#151515" stroke-width="1.05"/>
<line x1="508" y1="340.2" x2="508" y2="343" stroke="#151515" stroke-width="1.05"/>
<text class="k" x="502.68" y="352" font-size="7.2" textLength="10.65" lengthAdjust="spacingAndGlyphs">150</text>
<line x1="382" y1="339.4" x2="385" y2="339.4" stroke="#151515" stroke-width="1.05"/>
<text class="k" x="378.25" y="341.8" font-size="7.2" textLength="8.7" lengthAdjust="spacingAndGlyphs" text-anchor="end">0.0</text>
<line x1="383.4" y1="333.65" x2="385" y2="333.65" stroke="#151515" stroke-width="1.05"/>
<line x1="382" y1="327.9" x2="385" y2="327.9" stroke="#151515" stroke-width="1.05"/>
<text class="k" x="378.25" y="330.3" font-size="7.2" textLength="8.7" lengthAdjust="spacingAndGlyphs" text-anchor="end">0.5</text>
<line x1="383.4" y1="322.15" x2="385" y2="322.15" stroke="#151515" stroke-width="1.05"/>
<line x1="382" y1="316.4" x2="385" y2="316.4" stroke="#151515" stroke-width="1.05"/>
<text class="k" x="378.25" y="318.8" font-size="7.2" textLength="8.7" lengthAdjust="spacingAndGlyphs" text-anchor="end">1.0</text>
<line x1="383.4" y1="310.65" x2="385" y2="310.65" stroke="#151515" stroke-width="1.05"/>
<line x1="382" y1="304.9" x2="385" y2="304.9" stroke="#151515" stroke-width="1.05"/>
<text class="k" x="378.25" y="307.3" font-size="7.2" textLength="8.7" lengthAdjust="spacingAndGlyphs" text-anchor="end">1.5</text>
<line x1="382" y1="282" x2="385" y2="282" stroke="#151515" stroke-width="1.05"/>
<text class="k" x="378.25" y="284.4" font-size="7.2" textLength="3.55" lengthAdjust="spacingAndGlyphs" text-anchor="end">5</text>
<line x1="382" y1="256.4" x2="385" y2="256.4" stroke="#151515" stroke-width="1.05"/>
<text class="k" x="378.25" y="258.8" font-size="7.2" textLength="7.1" lengthAdjust="spacingAndGlyphs" text-anchor="end">10</text>
<line x1="383.4" y1="269.2" x2="385" y2="269.2" stroke="#151515" stroke-width="1.05"/>
<line x1="383.4" y1="243.6" x2="385" y2="243.6" stroke="#151515" stroke-width="1.05"/>
<line x1="383.4" y1="294.8" x2="385" y2="294.8" stroke="#151515" stroke-width="1.05"/>
<line x1="382.2" y1="215.7" x2="385" y2="215.7" stroke="#151515" stroke-width="0.8"/>
<line x1="383.5" y1="218.9" x2="385" y2="218.9" stroke="#151515" stroke-width="0.8"/>
<line x1="382.2" y1="222.1" x2="385" y2="222.1" stroke="#151515" stroke-width="0.8"/>
<line x1="383.5" y1="225" x2="385" y2="225" stroke="#151515" stroke-width="0.8"/>
<text class="k" x="0" y="0" font-size="7.2" textLength="7.1" lengthAdjust="spacingAndGlyphs" transform="translate(371.7 217.75) scale(1 0.9)">70</text>
<text class="k" x="0" y="0" font-size="7.2" textLength="7.1" lengthAdjust="spacingAndGlyphs" transform="translate(371.7 222.45) scale(1 0.9)">45</text>
<text class="k" x="0" y="0" font-size="7.2" textLength="7.1" lengthAdjust="spacingAndGlyphs" transform="translate(371.7 227.55) scale(1 0.9)">20</text>
<text class="k" x="0" y="0" font-size="7.2" textLength="7.1" lengthAdjust="spacingAndGlyphs" transform="translate(371.7 233.15) scale(1 0.9)">15</text>
<line x1="446" y1="216" x2="446" y2="304.1" stroke="#c8406a" stroke-width="1.5" stroke-dasharray="1 1"/>
<line x1="446" y1="306" x2="446" y2="339.7" stroke="#4a4a4a" stroke-width="1.5" stroke-dasharray="1 1"/>
<line x1="386" y1="304.6" x2="445.5" y2="304.6" stroke="#c8406a" stroke-width="1.5" stroke-dasharray="1 1"/>
<line x1="447" y1="304.6" x2="506.1" y2="304.6" stroke="#4a4a4a" stroke-width="1.5" stroke-dasharray="1 1"/>
<circle cx="401.3" cy="220" r="1.98" fill="#000"/>
<circle cx="407.6" cy="225.8" r="1.98" fill="#000"/>
<circle cx="465" cy="223.8" r="1.98" fill="#000"/>
<circle cx="451.3" cy="239.2" r="1.98" fill="#000"/>
<circle cx="429.1" cy="246.6" r="1.98" fill="#000"/>
<circle cx="433" cy="246.6" r="1.98" fill="#000"/>
<circle cx="432.6" cy="271.5" r="1.98" fill="#000"/>
<circle cx="460.2" cy="277.3" r="1.98" fill="#000"/>
<circle cx="449" cy="281.1" r="1.98" fill="#000"/>
<circle cx="448.2" cy="293.3" r="1.98" fill="#000"/>
<circle cx="460.2" cy="297.9" r="1.98" fill="#000"/>
<circle cx="463.6" cy="299.3" r="1.98" fill="#000"/>
<circle cx="468.4" cy="297.1" r="1.98" fill="#000"/>
<circle cx="455.6" cy="317.8" r="1.98" fill="#000"/>
<circle cx="435.9" cy="322.6" r="1.98" fill="#000"/>
<circle cx="481.6" cy="322.6" r="1.98" fill="#000"/>
<circle cx="415.5" cy="219.3" r="1.95" fill="#4a2478"/>
<text x="417.2" y="217.6" font-size="6.5" textLength="16.8" lengthAdjust="spacingAndGlyphs" fill="#6a4a94">D534V</text>
<circle cx="424" cy="222.1" r="1.95" fill="#e38d14"/>
<text x="426.7" y="223.9" font-size="6.5" textLength="16.2" lengthAdjust="spacingAndGlyphs" fill="#e38d14">L394R</text>
<circle cx="430.9" cy="226.4" r="1.95" fill="#aa0f30"/>
<text x="426" y="233.9" font-size="6.5" textLength="18" lengthAdjust="spacingAndGlyphs" fill="#aa0f30">W493C</text>
<circle cx="457.5" cy="225.7" r="1.95" fill="#22407f"/>
<text x="456.6" y="233.4" font-size="6.5" textLength="15.6" lengthAdjust="spacingAndGlyphs" fill="#3a5a9c">S284P</text>
<text class="t" x="414.5" y="364.5" font-size="9.8" textLength="65.9" lengthAdjust="spacingAndGlyphs">BGP carboxylation, %</text>
<g transform="rotate(-90 363.5 306)">
<text class="t" x="363.5" y="306" font-size="9.4" textLength="7.6" lengthAdjust="spacingAndGlyphs">EC</text>
<text class="k" x="371.6" y="308.6" font-size="6.6" textLength="6" lengthAdjust="spacingAndGlyphs">50</text>
<text class="t" x="379.6" y="306" font-size="9.4" textLength="44" lengthAdjust="spacingAndGlyphs">(fold increase)</text>
</g>
<text x="354.6" y="206.4" font-size="12" fill="#000" font-weight="bold">F</text>
<rect x="0" y="0" width="520" height="1.05" fill="#000"/>
<rect x="0" y="0" width="1.05" height="374" fill="#000"/>
<rect x="518.6" y="0" width="1.4" height="374" fill="#000"/>
<rect x="0" y="372.8" width="520" height="1.2" fill="#000"/>
</g>
</svg>
</body></html>
